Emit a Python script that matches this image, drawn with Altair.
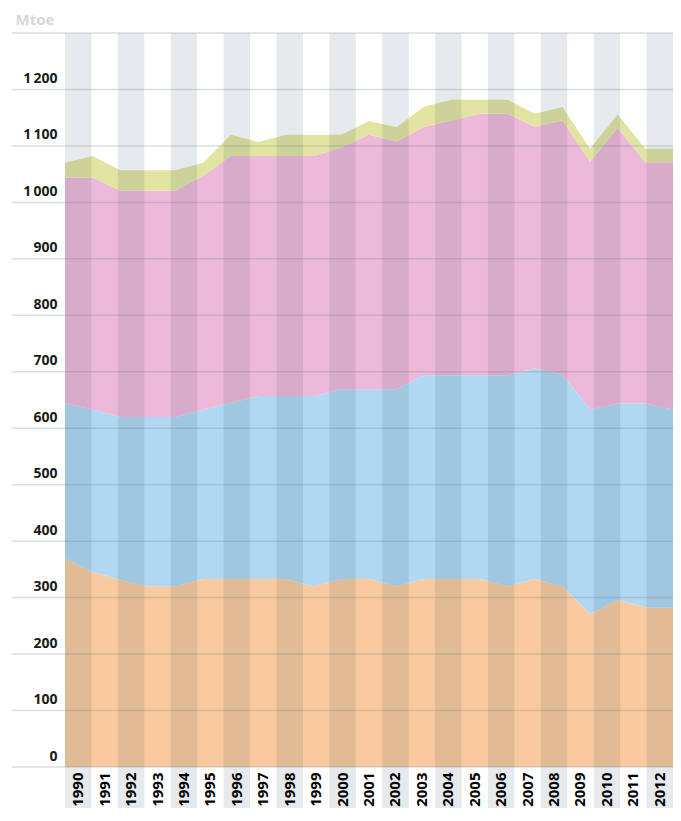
import altair as alt
import pandas as pd

years = list(range(1990, 2013))
year_labels = [str(y) for y in years]

series_names = ["Series 1", "Series 2", "Series 3", "Series 4"]
series_colors = ["#F9CA9F", "#B0D8F2", "#EDB9D8", "#E2E5A1"]

s1 = [369, 346, 331, 320, 320, 333, 333, 333, 333, 320, 333, 333, 320, 333, 333, 333, 320, 333, 320, 271, 296, 283, 282]
s2 = [275, 287, 289, 300, 300, 300, 312, 324, 324, 337, 336, 336, 349, 361, 361, 361, 374, 373, 375, 362, 348, 361, 351]
s3 = [400, 411, 401, 401, 401, 414, 437, 425, 425, 425, 428, 451, 439, 440, 451, 463, 463, 428, 450, 439, 488, 427, 438]
s4 = [26, 38, 36, 36, 36, 23, 38, 25, 38, 38, 23, 24, 25, 36, 37, 25, 25, 23, 24, 23, 24, 24, 24]

grid_values = list(range(0, 1400, 100))
label_values = list(range(0, 1300, 100))

rows = []
for i, yr in enumerate(years):
    for k, (name, vals) in enumerate(zip(series_names, [s1, s2, s3, s4])):
        rows.append({"year": yr, "series": name, "order": k, "value": vals[i]})
df = pd.DataFrame(rows)

bands_df = pd.DataFrame({"year": year_labels, "shade": [i % 2 == 0 for i in range(len(years))]})
grid_df = pd.DataFrame({"value": grid_values})

W = 608
H = 734
yscale = alt.Scale(domain=[0, 1300], nice=False, zero=True)

yaxis = alt.Axis(values=label_values, ticks=False, domain=False, grid=False,
                 labelAlign="right", labelBaseline="alphabetic", labelOffset=-7,
                 labelPadding=8, labelFont="Open Sans", labelFontSize=14,
                 labelFontWeight="bold", labelColor="#1a1a1a",
                 labelExpr="datum.value >= 1000 ? replace(format(datum.value, ','), ',', '\u2009') : datum.label",
                 title="Mtoe", titleAngle=0, titleX=-50, titleY=-9,
                 titleAlign="left", titleBaseline="alphabetic",
                 titleColor="#D3D8DB", titleFont="Open Sans",
                 titleFontSize=15, titleFontWeight="bold")

area = alt.Chart(df).mark_area(opacity=1).encode(
    x=alt.X("year:Q", scale=alt.Scale(domain=[1990, 2012], nice=False, zero=False), axis=None),
    y=alt.Y("value:Q", stack="zero", scale=yscale, axis=yaxis),
    color=alt.Color("series:N", scale=alt.Scale(domain=series_names, range=series_colors), legend=None),
    order=alt.Order("order:Q"),
)

bands = alt.Chart(bands_df).transform_filter("datum.shade").mark_rect(
    color="#23404f", opacity=0.11
).encode(
    x=alt.X("year:O", scale=alt.Scale(domain=year_labels, paddingInner=0, paddingOuter=0),
            axis=alt.Axis(orient="bottom", labelAngle=-90, labelFont="Open Sans",
                          labelFontSize=15, labelFontWeight="bold", labelColor="#000000",
                          ticks=False, domain=False, labelPadding=5, labelOverlap=False,
                          title=None)),
    y=alt.value(0),
    y2=alt.value(H + 70),
)

grid = alt.Chart(grid_df).mark_rule(color="#6b7f8c", strokeWidth=1.5, opacity=0.25).encode(
    y=alt.Y("value:Q", scale=yscale, axis=yaxis),
    x=alt.value(-53),
    x2=alt.value(W),
)

chart = alt.layer(area, bands, grid).resolve_scale(x="independent").properties(
    width=W, height=H,
    padding={"left": 57, "top": 25, "right": 0, "bottom": 41},
    autosize="none",
).configure_view(stroke=None)

chart.save("out.html", embed_options={"renderer": "svg", "actions": False})
